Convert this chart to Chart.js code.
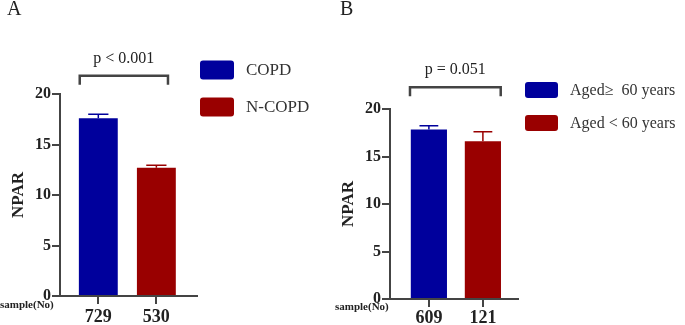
<!DOCTYPE html>
<html>
<head>
<meta charset="utf-8">
<script src="https://cdn.jsdelivr.net/npm/chart.js@4.4.0/dist/chart.umd.min.js"></script>
<style>
  body { margin: 0; background: #fff; }
  #wrap { position: relative; width: 685px; height: 325px; overflow: hidden; }
  canvas { position: absolute; top: 0; }
</style>
</head>
<body>
<div id="wrap">
  <canvas id="chartA" width="340" height="325" style="left:0"></canvas>
  <canvas id="chartB" width="355" height="325" style="left:330px"></canvas>
</div>
<script>
// panel A
const groupsA = ["COPD", "N-COPD"];
const samplesA = ["729", "530"];
const meansA = [17.6, 12.7];
const errA = [0.4, 0.25];
const pTextA = "p < 0.001";

// panel B
const groupsB = ["Aged\u2265  60 years", "Aged < 60 years"];
const samplesB = ["609", "121"];
const meansB = [17.85, 16.6];
const errB = [0.4, 1.0];
const pTextB = "p = 0.051";

const yTicks = [0, 5, 10, 15, 20];

const BLUE = "#00009c";
const RED = "#990000";
const AXIS = "#444444";
const SERIF = "'Liberation Serif', 'Times New Roman', serif";

// draws error bars, bracket, legend and extra labels
const extras = {
  id: "extras",
  afterDatasetsDraw(chart, args, opts) {
    const c = chart.ctx;
    const xs = chart.scales.x, ys = chart.scales.y;
    const meta = chart.getDatasetMeta(0);
    const colors = chart.data.datasets[0].backgroundColor;
    c.save();

    // error bars (upper only)
    meta.data.forEach((bar, i) => {
      const top = ys.getPixelForValue(opts.means[i] + opts.errs[i]);
      const half = bar.width * 0.26;
      c.strokeStyle = colors[i];
      c.lineWidth = 1.5;
      c.beginPath();
      c.moveTo(bar.x, bar.y);
      c.lineTo(bar.x, top);
      c.moveTo(bar.x - half, top);
      c.lineTo(bar.x + half, top);
      c.stroke();
    });

    // significance bracket
    const bx0 = xs.getPixelForValue(opts.bracket[0]);
    const bx1 = xs.getPixelForValue(opts.bracket[1]);
    const by = ys.getPixelForValue(opts.bracketY);
    c.strokeStyle = AXIS;
    c.lineWidth = 2.5;
    c.lineJoin = "miter";
    c.beginPath();
    c.moveTo(bx0, by + 9);
    c.lineTo(bx0, by);
    c.lineTo(bx1, by);
    c.lineTo(bx1, by + 9);
    c.stroke();
    c.fillStyle = "#222";
    c.font = "16px " + SERIF;
    c.textAlign = "center";
    c.textBaseline = "middle";
    c.fillText(opts.pText, (bx0 + bx1) / 2, by - 17);

    // legend
    opts.groups.forEach((g, i) => {
      const ly = opts.legend.y + i * opts.legend.gap;
      c.fillStyle = colors[i];
      c.beginPath();
      c.roundRect(opts.legend.x, ly - opts.legend.h / 2, opts.legend.w, opts.legend.h, 3);
      c.fill();
      c.fillStyle = "#333";
      c.font = opts.legend.font + "px " + SERIF;
      c.textAlign = "left";
      c.fillText(g, opts.legend.x + opts.legend.w + 12, ly + 1);
    });

    // "sample(No)" label
    c.fillStyle = "#222";
    c.font = "bold 11px " + SERIF;
    c.textAlign = "left";
    c.fillText("sample(No)", opts.sampleX, opts.sampleY);

    // panel letter
    c.font = "20px " + SERIF;
    c.textBaseline = "alphabetic";
    c.fillText(opts.letter, opts.letterX, 15);
    c.restore();
  }
};

function makeChart(id, groups, samples, means, errs, cfg) {
  const ctx = document.getElementById(id).getContext("2d");
  return new Chart(ctx, {
    type: "bar",
    data: {
      datasets: [{
        data: means.map((v, i) => ({ x: i, y: v })),
        backgroundColor: [BLUE, RED],
        borderWidth: 0,
        barPercentage: 0.67,
        categoryPercentage: 1,
      }],
    },
    options: {
      responsive: false,
      animation: false,
      layout: { padding: { top: cfg.top, right: cfg.right, left: 0, bottom: 0 } },
      plugins: {
        legend: { display: false },
        tooltip: { enabled: false },
        extras: {
          means, errs, groups,
          pText: cfg.pText,
          bracket: cfg.bracket,
          bracketY: cfg.bracketY,
          legend: cfg.legend,
          sampleX: cfg.sampleX,
          sampleY: cfg.sampleY,
          letter: cfg.letter,
          letterX: cfg.letterX,
        },
      },
      scales: {
        x: {
          type: "linear",
          offset: false,
          min: cfg.xMin,
          max: cfg.xMax,
          afterFit: (s) => { s.height = cfg.xHeight; },
          afterBuildTicks: (s) => { s.ticks = samples.map((_, i) => ({ value: i })); },
          border: { color: AXIS, width: 2 },
          grid: { offset: false, drawOnChartArea: false, color: AXIS, lineWidth: 2, tickLength: 8 },
          ticks: {
            autoSkip: false,
            maxRotation: 0,
            padding: cfg.labelPad,
            color: "#222",
            font: { family: SERIF, size: 18, weight: "bold" },
            callback: (v, i) => samples[i],
          },
        },
        y: {
          min: 0,
          max: 20,
          afterFit: (s) => { s.width = 60; },
          afterBuildTicks: (s) => { s.ticks = yTicks.map((v) => ({ value: v })); },
          border: { color: AXIS, width: 2 },
          grid: { drawOnChartArea: false, color: AXIS, lineWidth: 2, tickLength: 8 },
          ticks: {
            padding: 1,
            color: "#222",
            font: { family: SERIF, size: 16, weight: "bold" },
          },
          title: {
            display: true,
            text: "NPAR",
            color: "#222",
            font: { family: SERIF, size: 17, weight: "bold" },
            padding: { top: 8, bottom: 0 },
          },
        },
      },
    },
    plugins: [extras],
  });
}

makeChart("chartA", groupsA, samplesA, meansA, errA, {
  top: 94, right: 143, xHeight: 29, labelPad: 3,
  xMin: -0.66, xMax: 1.7,
  pText: pTextA, bracket: [-0.32, 1.2], bracketY: 21.8,
  legend: { x: 200, y: 70, gap: 37, w: 34, h: 19, font: 17 },
  sampleX: 0, sampleY: 305,
  letter: "A", letterX: 7,
});

makeChart("chartB", groupsB, samplesB, meansB, errB, {
  top: 109, right: 167, xHeight: 26, labelPad: 1,
  xMin: -0.72, xMax: 1.65,
  pText: pTextB, bracket: [-0.35, 1.33], bracketY: 22.3,
  legend: { x: 195, y: 90, gap: 33, w: 33, h: 16, font: 16 },
  sampleX: 5, sampleY: 307,
  letter: "B", letterX: 10,
});
</script>
</body>
</html>
